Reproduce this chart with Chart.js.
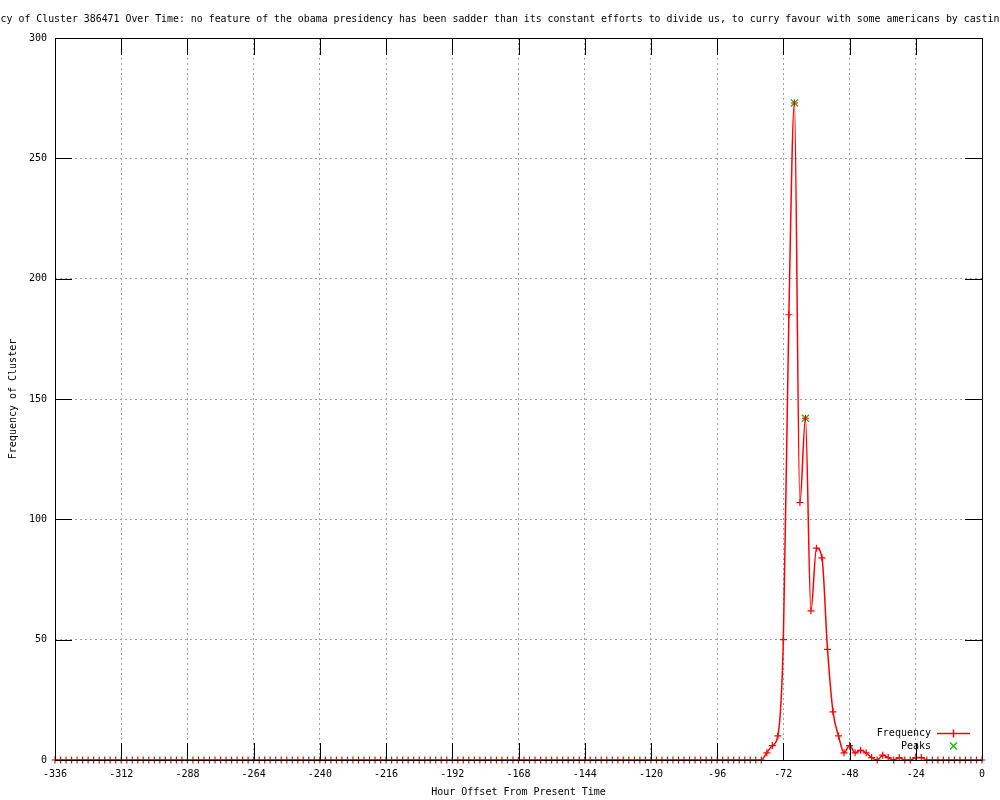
<!DOCTYPE html>
<html>
<head>
<meta charset="utf-8">
<script src="https://cdn.jsdelivr.net/npm/chart.js@4.4.1/dist/chart.umd.min.js"></script>
<style>
  html, body { margin: 0; padding: 0; background: #fff; }
  canvas { display: block; }
</style>
</head>
<body>
<canvas id="chart" width="1000" height="800"></canvas>
<script>
// Cluster frequency in 2 hour bins, from -336h up to 0h
const frequency = [
  0, 0, 0, 0, 0, 0, 0, 0, 0, 0, 0, 0,       // -336 .. -314
  0, 0, 0, 0, 0, 0, 0, 0, 0, 0, 0, 0,       // -312 .. -290
  0, 0, 0, 0, 0, 0, 0, 0, 0, 0, 0, 0,       // -288 .. -266
  0, 0, 0, 0, 0, 0, 0, 0, 0, 0, 0, 0,       // -264 .. -242
  0, 0, 0, 0, 0, 0, 0, 0, 0, 0, 0, 0,       // -240 .. -218
  0, 0, 0, 0, 0, 0, 0, 0, 0, 0, 0, 0,       // -216 .. -194
  0, 0, 0, 0, 0, 0, 0, 0, 0, 0, 0, 0,       // -192 .. -170
  0, 0, 0, 0, 0, 0, 0, 0, 0, 0, 0, 0,       // -168 .. -146
  0, 0, 0, 0, 0, 0, 0, 0, 0, 0, 0, 0,       // -144 .. -122
  0, 0, 0, 0, 0, 0, 0, 0, 0, 0, 0, 0,       // -120 .. -98
  0, 0, 0, 0, 0, 0, 0, 0, 0,                // -96 .. -80
  3, 6, 10, 50, 185, 273, 107, 142, 62, 88, 84, 46, // -78 .. -56
  20, 10, 3, 6, 3, 4, 3, 1, 0, 2, 1, 0,     // -54 .. -32
  1, 0, 0, 1, 1, 0, 0, 0, 0, 0, 0, 0,       // -30 .. -8
  0, 0, 0, 0                                // -6 .. 0
];
const hours = frequency.map((_, i) => -336 + 2 * i);

const peakHours = [-68, -64];
const peakValues = [273, 142];

const xTicks = [-336, -312, -288, -264, -240, -216, -192, -168, -144, -120, -96, -72, -48, -24, 0];
const yTicks = [0, 50, 100, 150, 200, 250, 300];

const titleText = 'Frequency of Cluster 386471 Over Time: no feature of the obama presidency has been sadder than its constant efforts to divide us, to curry favour with some americans by casting others as enemies';
const xLabel = 'Hour Offset From Present Time';
const yLabel = 'Frequency of Cluster';

const FONT = '10px "DejaVu Sans Mono", "Liberation Mono", monospace';
const TIC = 17;

// border, tics, titles and the key, drawn gnuplot style
const frame = {
  id: 'frame',
  afterDatasetsDraw(chart) {
    const { ctx, chartArea: a, scales: { x, y } } = chart;
    ctx.save();
    ctx.strokeStyle = '#000';
    ctx.lineWidth = 1;
    ctx.beginPath();
    ctx.rect(a.left + 0.5, a.top + 0.5, a.right - a.left, a.bottom - a.top);
    xTicks.forEach(v => {
      const px = Math.round(x.getPixelForValue(v)) + 0.5;
      ctx.moveTo(px, a.bottom); ctx.lineTo(px, a.bottom - TIC);
      ctx.moveTo(px, a.top); ctx.lineTo(px, a.top + TIC);
    });
    yTicks.forEach(v => {
      const py = Math.round(y.getPixelForValue(v)) + 0.5;
      ctx.moveTo(a.left, py); ctx.lineTo(a.left + TIC, py);
      ctx.moveTo(a.right, py); ctx.lineTo(a.right - TIC, py);
    });
    ctx.stroke();

    ctx.fillStyle = '#000';
    ctx.textBaseline = 'middle';

    // title is wider than the canvas, centred on the page
    ctx.font = '9.9px "DejaVu Sans Mono", "Liberation Mono", monospace';
    const head = titleText.slice(0, titleText.indexOf('sadder t') + 8);
    ctx.textAlign = 'left';
    ctx.fillText(titleText, 500 - ctx.measureText(head).width, 19);

    ctx.font = FONT;
    ctx.textAlign = 'center';
    ctx.fillText(xLabel, (a.left + a.right) / 2, 792);
    ctx.save();
    ctx.translate(13, (a.top + a.bottom) / 2);
    ctx.rotate(-Math.PI / 2);
    ctx.fillText(yLabel, 0, 0);
    ctx.restore();

    // key
    ctx.textAlign = 'right';
    ctx.fillText('Frequency', 931, 733);
    ctx.fillText('Peaks', 931, 746);
    ctx.lineWidth = 1.5;
    ctx.strokeStyle = '#ff0000';
    ctx.beginPath();
    ctx.moveTo(937, 733.5); ctx.lineTo(970, 733.5);
    ctx.moveTo(953.5, 729.5); ctx.lineTo(953.5, 737.5);
    ctx.stroke();
    ctx.lineWidth = 1.2;
    ctx.strokeStyle = '#00c000';
    ctx.beginPath();
    ctx.moveTo(950, 742.5); ctx.lineTo(957, 749.5);
    ctx.moveTo(957, 742.5); ctx.lineTo(950, 749.5);
    ctx.stroke();
    ctx.restore();
  }
};

Chart.defaults.font.family = '"DejaVu Sans Mono", "Liberation Mono", monospace';
Chart.defaults.font.size = 10;
Chart.defaults.color = '#000';

new Chart(document.getElementById('chart'), {
  type: 'line',
  data: {
    datasets: [{
      label: 'Frequency',
      data: hours.map((h, i) => ({ x: h, y: frequency[i] })),
      borderColor: '#ff0000',
      borderWidth: 1.5,
      cubicInterpolationMode: 'monotone',
      pointStyle: 'cross',
      pointRadius: 3.5,
      pointBorderWidth: 1.2,
      pointBorderColor: '#ff0000',
      clip: false
    }, {
      label: 'Peaks',
      data: peakHours.map((h, i) => ({ x: h, y: peakValues[i] })),
      showLine: false,
      pointStyle: 'crossRot',
      pointRadius: 5,
      pointBorderWidth: 1.2,
      pointBorderColor: '#00c000',
      clip: false
    }]
  },
  options: {
    responsive: false,
    animation: false,
    devicePixelRatio: 1,
    layout: { padding: { top: 38, right: 18, left: 0, bottom: 0 } },
    plugins: { legend: { display: false }, tooltip: { enabled: false }, title: { display: false } },
    scales: {
      x: {
        type: 'linear',
        min: -336,
        max: 0,
        afterBuildTicks: s => { s.ticks = xTicks.map(v => ({ value: v })); },
        afterFit: s => { s.height = 40; },
        ticks: { padding: 8, maxRotation: 0, autoSkip: false, callback: v => String(v) },
        grid: { color: '#a0a0a0', drawTicks: false, lineWidth: 1 },
        border: { display: false, dash: [2, 3] }
      },
      y: {
        min: 0,
        max: 300,
        afterBuildTicks: s => { s.ticks = yTicks.map(v => ({ value: v })); },
        afterFit: s => { s.width = 55; },
        ticks: { padding: 8, callback: v => String(v) },
        grid: { color: '#a0a0a0', drawTicks: false, lineWidth: 1 },
        border: { display: false, dash: [2, 3] }
      }
    }
  },
  plugins: [frame]
});
</script>
</body>
</html>
